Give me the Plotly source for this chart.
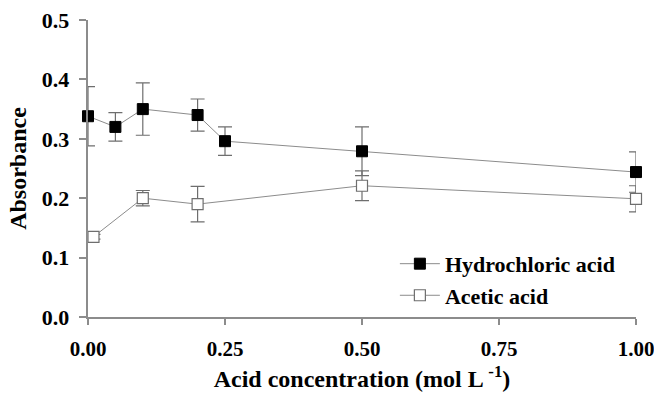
import plotly.graph_objects as go

conc_hcl = [0.0, 0.05, 0.1, 0.2, 0.25, 0.5, 1.0]
abs_hcl = [0.338, 0.320, 0.350, 0.340, 0.296, 0.279, 0.244]
err_hcl = [0.050, 0.024, 0.044, 0.027, 0.024, 0.041, 0.034]

conc_ace = [0.01, 0.1, 0.2, 0.5, 1.0]
abs_ace = [0.135, 0.200, 0.190, 0.221, 0.199]
err_ace = [0.004, 0.013, 0.030, 0.025, 0.022]

x_ticks = [0.0, 0.25, 0.5, 0.75, 1.0]
x_ticklabels = ["0.00", "0.25", "0.50", "0.75", "1.00"]
y_ticks = [0.0, 0.1, 0.2, 0.3, 0.4, 0.5]
y_ticklabels = ["0.0", "0.1", "0.2", "0.3", "0.4", "0.5"]

FONT = "Liberation Serif"

fig = go.Figure()
fig.add_trace(go.Scatter(
    x=conc_hcl, y=abs_hcl, name="<b>Hydrochloric acid</b>", mode="lines+markers",
    line=dict(color="#8c8c8c", width=1),
    marker=dict(symbol="square", size=11, color="black", line=dict(color="black", width=1)),
    error_y=dict(type="data", array=err_hcl, color="#6e6e6e", thickness=1.2, width=7),
    cliponaxis=False,
))
fig.add_trace(go.Scatter(
    x=conc_ace, y=abs_ace, name="<b>Acetic acid</b>", mode="lines+markers",
    line=dict(color="#8c8c8c", width=1),
    marker=dict(symbol="square", size=11, color="white", line=dict(color="#6e6e6e", width=1.2)),
    error_y=dict(type="data", array=err_ace, color="#6e6e6e", thickness=1.2, width=7),
    cliponaxis=False,
))

fig.update_layout(
    width=654, height=395,
    margin=dict(l=88, r=18, t=20, b=78, autoexpand=False),
    paper_bgcolor="white", plot_bgcolor="white",
    font=dict(family=FONT, size=22, color="black"),
    showlegend=True,
    legend=dict(x=0.56, y=0.125, xanchor="left", yanchor="middle",
                bgcolor="rgba(0,0,0,0)", font=dict(family=FONT, size=22, color="black"),
                tracegroupgap=0, itemwidth=40),
    xaxis=dict(range=[0, 1], tickvals=x_ticks, ticktext=["<b>%s</b>" % t for t in x_ticklabels],
               automargin=False, ticklabeloverflow="allow", ticklabelstandoff=6,
               showgrid=False, zeroline=False, showline=True, linecolor="#8c8c8c", linewidth=1.5,
               ticks="outside", ticklen=6, tickcolor="#8c8c8c", tickwidth=1.5,
               tickfont=dict(family=FONT, size=21),
               title=dict(text="<b>Acid concentration (mol L <sup>-1</sup>)</b>", font=dict(family=FONT, size=24), standoff=10)),
    yaxis=dict(range=[0, 0.5], tickvals=y_ticks, ticktext=["<b>%s</b>&nbsp;" % t for t in y_ticklabels],
               automargin=False, ticklabeloverflow="allow",
               showgrid=False, zeroline=False, showline=True, linecolor="#8c8c8c", linewidth=1.5,
               ticks="outside", ticklen=7, tickcolor="#8c8c8c", tickwidth=1.5,
               tickfont=dict(family=FONT, size=22),
               title=dict(text="<b>Absorbance</b>", font=dict(family=FONT, size=24), standoff=8)),
)

fig.write_html("out.html")
